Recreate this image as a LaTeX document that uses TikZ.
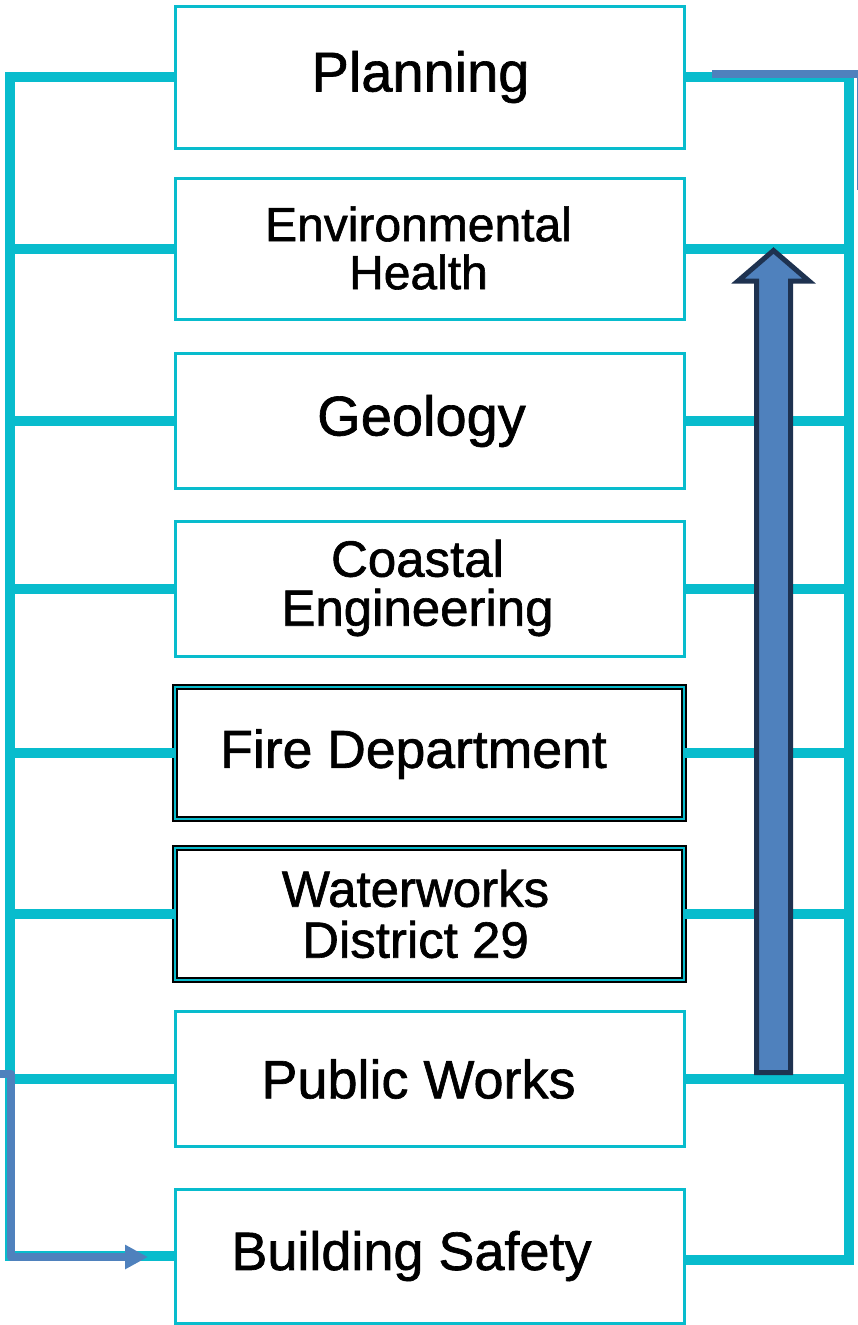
\documentclass[tikz,border=0pt]{standalone}
\usepackage{fontspec}
\setmainfont{Liberation Sans}
\newfontfamily\grossa{Liberation Sans}[FakeBold=1.2]
\usepackage{tikz}
\usetikzlibrary{arrows.meta}
\definecolor{ciano}{RGB}{8,188,205}
\definecolor{azulseta}{RGB}{79,129,189}
\definecolor{bordaseta}{RGB}{30,50,80}
\newcommand{\corA}{ciano}
\newcommand{\corB}{azulseta}
\newcommand{\corC}{bordaseta}
\newcommand{\tam}[1]{\grossa\fontsize{#1}{#1}\selectfont}

\begin{document}
\begin{tikzpicture}[x=1pt, y=-1pt,
    caixa/.style={draw=\corA, line width=3pt, fill=white, minimum width=509pt, inner sep=0pt},
    caixadupla/.style={caixa, draw=black, line width=1.5pt, double=\corA, double distance=2.5pt},
    rotulo/.style={align=center, inner sep=0pt, xshift=-11pt},
    barra/.style={draw=\corA, line width=10pt},
    guia/.style={draw=\corB, line width=8pt, line join=round}]
    \useasboundingbox (0,0) rectangle (858,1325);

          % caixas
        \node[caixa, minimum height=142pt, label={[rotulo, font=\tam{56}, xshift=2pt]center:Planning}] (plan) at (429.5,77) {};
        \node[caixa, minimum height=141pt, label={[rotulo, font=\tam{48}, yshift=1pt]center:Environmental\\Health}] (envh) at (429.5,249) {};
        \node[caixa, minimum height=135.5pt, label={[rotulo, font=\tam{56}, xshift=3pt]center:Geology}] (geol) at (429.5,421) {};
        \node[caixa, minimum height=134.5pt, label={[rotulo, font=\tam{51}, xshift=-1pt, yshift=1pt]center:Coastal\\[-2pt]Engineering}] (coast) at (429.5,589) {};
        \node[caixadupla, minimum height=132pt, label={[rotulo, font=\tam{53.5}, xshift=-5pt, yshift=-1pt]center:Fire Department}] (fire) at (429.5,753) {};
        \node[caixadupla, minimum height=132pt, label={[rotulo, font=\tam{51}, xshift=-3pt]center:Waterworks\\District 29}] (water) at (429.5,914) {};
        \node[caixa, minimum height=135.5pt, label={[rotulo, font=\tam{54}]center:Public Works}] (works) at (429.5,1079) {};
        \node[caixa, minimum height=134pt, label={[rotulo, font=\tam{54}, xshift=-7pt]center:Building Safety}] (build) at (429.5,1256) {};

          % barras laterais
        \coordinate (esq) at (10,0);
        \coordinate (dir) at (849,0);
        \draw[barra] (plan.west) -- (plan.west -| esq) -- (build.west -| esq) -- (build.west);
        \draw[barra] (plan.east) -- (plan.east -| dir) -- ([yshift=-4pt]build.east -| dir) -- ([yshift=-4pt]build.east);
        \foreach \n in {envh,geol,coast,fire,water,works}
            \draw[barra] (\n.west) -- (\n.west -| esq) (\n.east) -- (\n.east -| dir);

          % seta grande
        \filldraw[fill=\corB, draw=\corC, line width=5pt] (756.5,1072.5) -- (756.5,281) -- (738,281) -- (773.5,250.5) -- (809,281) -- (790.5,281) -- (790.5,1072.5) -- cycle;

          % guias
        \coordinate (ponta) at (148,1257);
        \draw[guia, -{Triangle[length=23pt,width=23pt]}] (-5,1074) -- (11,1074) -- (11,1257) -- (ponta);
        \draw[guia] (712,73.5) -- (861,73.5) -- (861,190);
    \end{tikzpicture}
\end{document}
